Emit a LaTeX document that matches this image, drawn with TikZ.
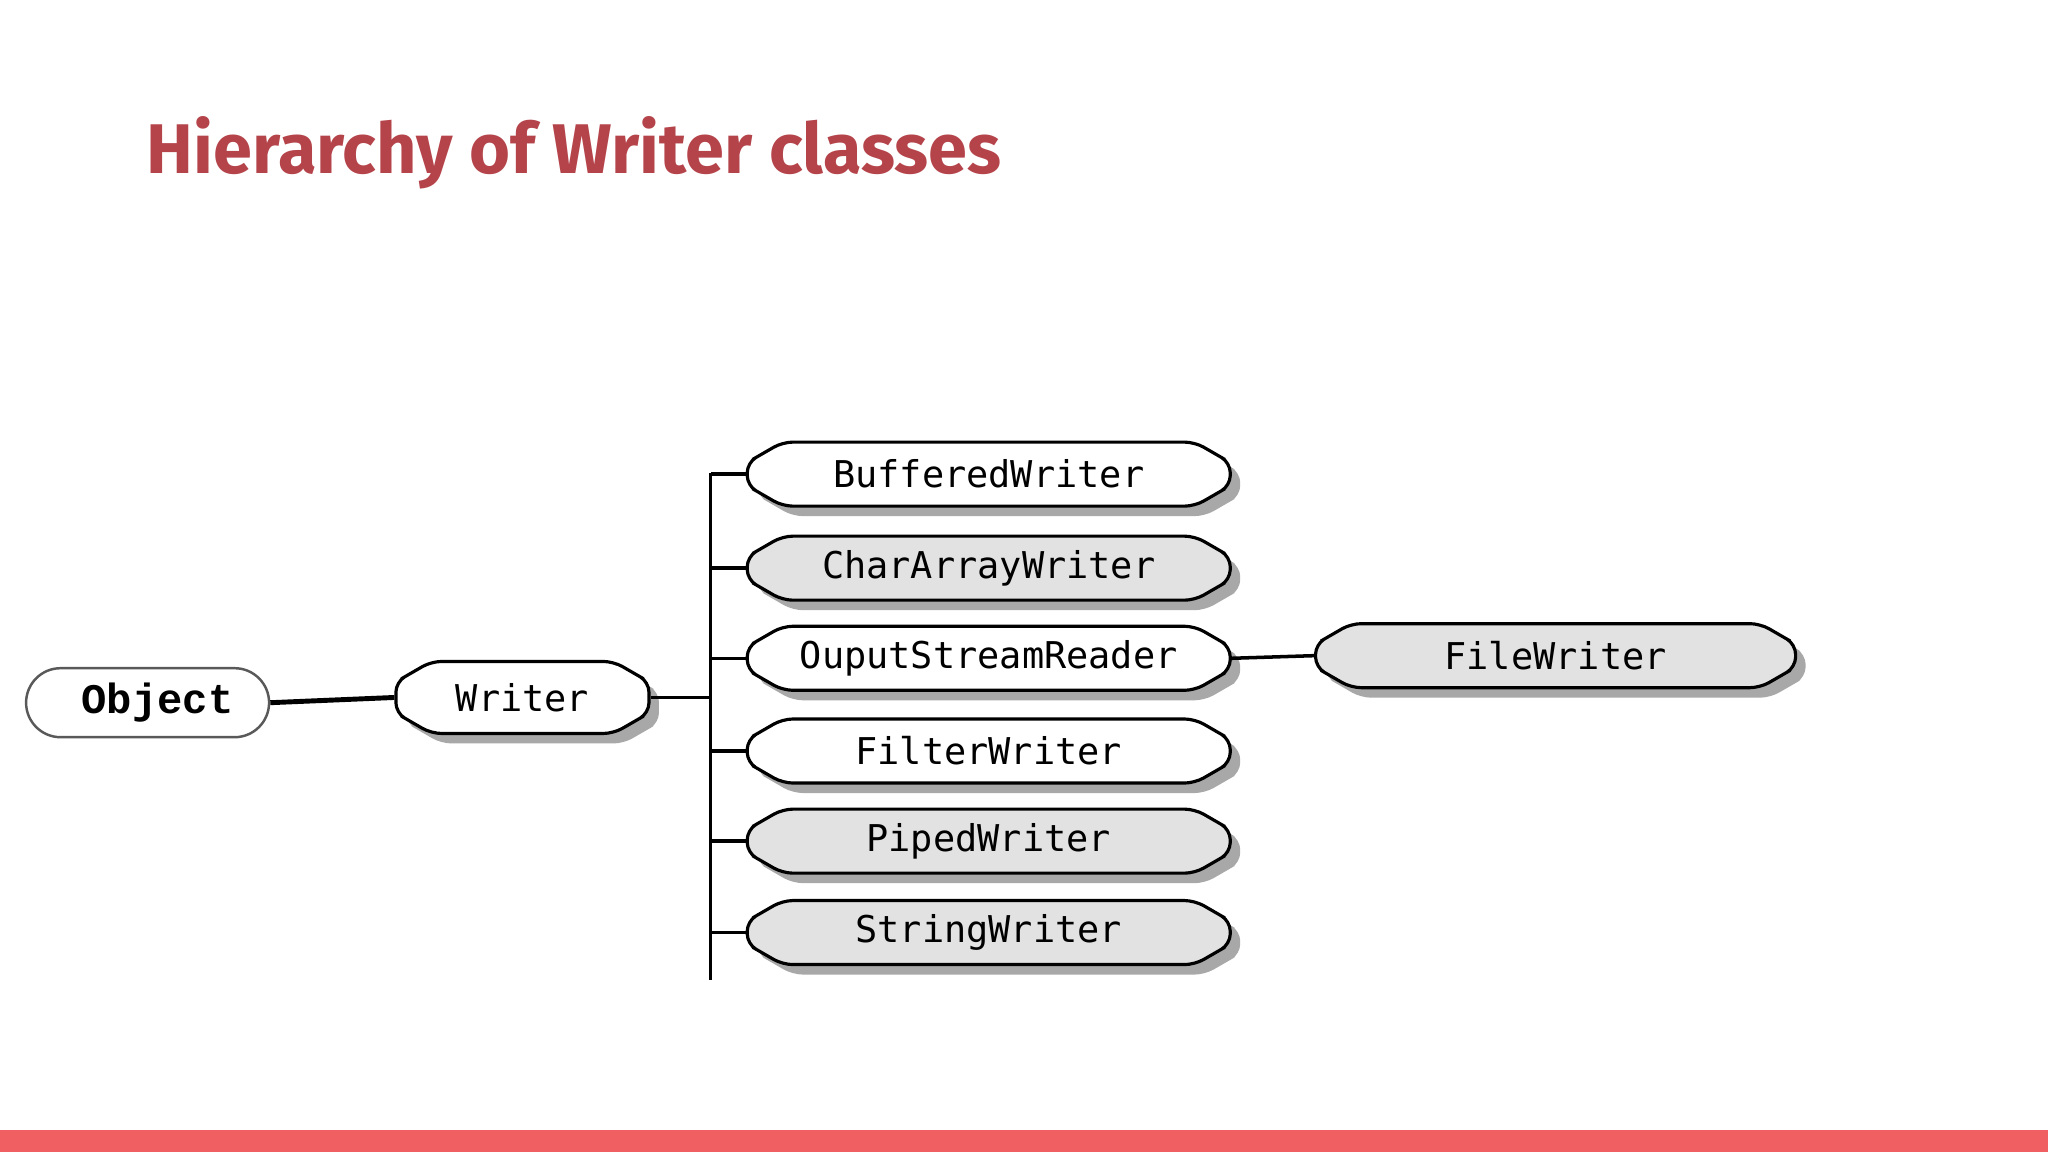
\documentclass[tikz,border=0pt]{standalone}
\usepackage{fontspec}
\setmainfont{Fira Sans}
\newfontfamily\codefont{DejaVu Sans Mono}
\newfontfamily\objfont{Liberation Mono}
\usetikzlibrary{shapes.misc,shadows}
\definecolor{titlered}{HTML}{B5434A}
\definecolor{barred}{HTML}{F06062}
\definecolor{boxgray}{HTML}{E2E2E2}
\definecolor{shadowgray}{HTML}{A8A8A8}
\tikzset{
  cls/.style={chamfered rectangle, chamfered rectangle xsep=0.14cm, chamfered rectangle angle=60, rounded corners=0.1cm,
    draw=black, line width=0.9pt, minimum width=4.83cm, minimum height=0.64cm, inner sep=0pt,
    font=\codefont\fontsize{10.5}{12}\selectfont,
    drop shadow={shadow xshift=0.1cm, shadow yshift=-0.1cm, fill=shadowgray, opacity=1}},
  whitecls/.style={cls, fill=white},
  graycls/.style={cls, fill=boxgray},
  wire/.style={line width=1pt, black}
}
\begin{document}
\begin{tikzpicture}[x=0.01306cm,y=-0.01306cm]
\useasboundingbox (0,0) rectangle (1568,882);
\fill[white] (0,0) rectangle (1568,882);
\fill[barred] (0,865) rectangle (1568,882);
\node[anchor=base west, inner sep=0pt, text=titlered, font=\bfseries\fontsize{20}{24}\selectfont] (title) at (112,133) {Hierarchy of Writer classes};
\node[rounded rectangle, draw=gray!70!black, line width=0.7pt, fill=white, minimum width=2.43cm, minimum height=0.69cm, inner sep=0pt, font=\objfont\bfseries\fontsize{12}{14}\selectfont] (object) at (113,538) {\hspace{0.2cm}Object};
\node[whitecls, minimum width=2.53cm, minimum height=0.72cm] (writer) at (400,534) {Writer};
\node[whitecls] (buf) at (757,363) {BufferedWriter};
\node[graycls] (car) at (757,435) {CharArrayWriter};
\node[whitecls] (osr) at (757,504) {OuputStreamReader};
\node[whitecls] (fil) at (757,575) {FilterWriter};
\node[graycls] (pip) at (757,644) {PipedWriter};
\node[graycls] (str) at (757,714) {StringWriter};
\node[graycls, minimum width=4.8cm] (fw) at (1191,502) {FileWriter};
\coordinate (bustop) at (544,362);
\coordinate (busbot) at (544,750);
\coordinate (busw) at (544,534);
\draw[wire, line width=1.4pt] (object.east) -- (writer.west);
\draw[wire] (bustop) -- (busbot);
\draw[wire] (writer.east) -- (busw);
\foreach \n in {buf,car,osr,fil,pip,str}{
  \draw[wire] (\n.west) -- (\n.west -| busw);
}
\draw[wire] (osr.east) -- (fw.west);
\end{tikzpicture}
\end{document}
